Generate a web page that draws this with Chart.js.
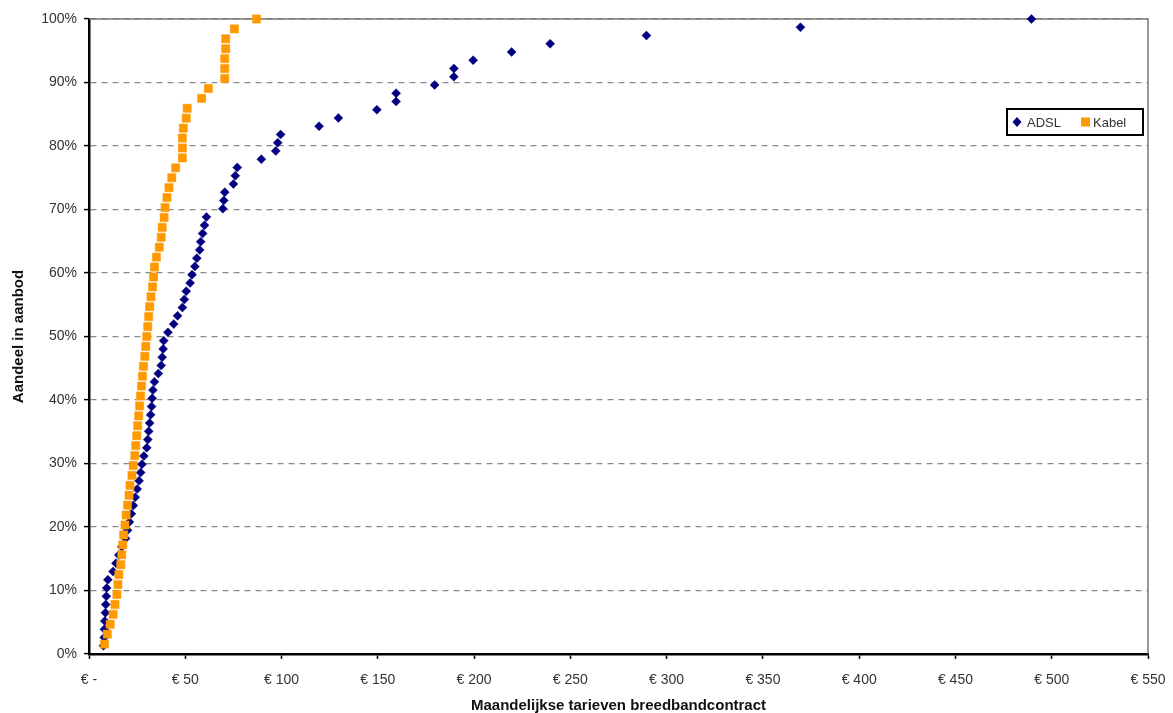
<!DOCTYPE html>
<html>
<head>
<meta charset="utf-8">
<script src="https://cdn.jsdelivr.net/npm/chart.js@4/dist/chart.umd.min.js"></script>
<style>
  html, body { margin: 0; padding: 0; background: #fff; }
  #wrap { width: 1173px; height: 713px; }
</style>
</head>
<body>
<div id="wrap"><canvas id="mycanvas" width="1173" height="713"></canvas></div>
<script>
// monthly price (euro) and cumulative share of offers (%)
var adslPrice = [7.5, 7.9, 8.0, 8.2, 8.5, 8.7, 9.0, 9.2, 9.8, 12.5,
  14.0, 15.5, 17.0, 19.0, 20.0, 21.0, 22.0, 23.0, 24.0, 25.0,
  26.0, 26.8, 27.5, 28.5, 30.0, 30.5, 31.0, 31.5, 32.0, 32.5,
  32.8, 33.2, 34.0, 36.0, 37.5, 38.0, 38.5, 38.8, 41.0, 44.0,
  46.0, 48.5, 49.5, 50.5, 52.5, 53.5, 55.0, 56.0, 57.5, 58.0,
  59.0, 60.0, 61.0, 69.5, 70.0, 70.5, 75.0, 76.0, 77.0, 89.5,
  97.0, 98.0, 99.5, 119.5, 129.5, 149.5, 159.5, 159.5, 179.5, 189.5,
  189.5, 199.5, 219.5, 239.5, 289.5, 369.5, 489.5];
var adslShare = [1.30, 2.60, 3.90, 5.19, 6.49, 7.79, 9.09, 10.39, 11.69, 12.99,
  14.29, 15.58, 16.88, 18.18, 19.48, 20.78, 22.08, 23.38, 24.68, 25.97,
  27.27, 28.57, 29.87, 31.17, 32.47, 33.77, 35.06, 36.36, 37.66, 38.96,
  40.26, 41.56, 42.86, 44.16, 45.45, 46.75, 48.05, 49.35, 50.65, 51.95,
  53.25, 54.55, 55.84, 57.14, 58.44, 59.74, 61.04, 62.34, 63.64, 64.94,
  66.23, 67.53, 68.83, 70.13, 71.43, 72.73, 74.03, 75.32, 76.62, 77.92,
  79.22, 80.52, 81.82, 83.12, 84.42, 85.71, 87.01, 88.31, 89.61, 90.91,
  92.21, 93.51, 94.81, 96.10, 97.40, 98.70, 100];

var kabelPrice = [8.0, 9.5, 11.0, 12.5, 13.5, 14.5, 15.0, 15.5, 16.5, 17.0,
  17.5, 18.0, 18.7, 19.3, 20.0, 20.8, 21.3, 22.3, 23.0, 23.8,
  24.3, 24.8, 25.3, 25.8, 26.3, 26.8, 27.3, 27.8, 28.3, 29.0,
  29.5, 30.0, 30.5, 31.0, 31.5, 32.2, 33.0, 33.5, 34.0, 35.0,
  36.5, 37.5, 38.0, 39.0, 39.5, 40.5, 41.5, 43.0, 45.0, 48.5,
  48.5, 48.5, 49.0, 50.5, 51.0, 58.5, 62.0, 70.5, 70.5, 70.5,
  71.0, 71.0, 75.5, 87.0];
var kabelShare = [1.56, 3.13, 4.69, 6.25, 7.81, 9.38, 10.94, 12.50, 14.06, 15.63,
  17.19, 18.75, 20.31, 21.88, 23.44, 25.00, 26.56, 28.13, 29.69, 31.25,
  32.81, 34.38, 35.94, 37.50, 39.06, 40.63, 42.19, 43.75, 45.31, 46.88,
  48.44, 50.00, 51.56, 53.13, 54.69, 56.25, 57.81, 59.38, 60.94, 62.50,
  64.06, 65.63, 67.19, 68.75, 70.31, 71.88, 73.44, 75.00, 76.56, 78.13,
  79.69, 81.25, 82.81, 84.38, 85.94, 87.50, 89.06, 90.63, 92.19, 93.75,
  95.31, 96.88, 98.44, 100];

var seriesNames = ['ADSL', 'Kabel'];
var xTitle = 'Maandelijkse tarieven breedbandcontract';
var yTitle = 'Aandeel in aanbod';

var navy = '#000080';
var orange = '#FF9900';

function toPoints(xs, ys) {
  var pts = [];
  for (var i = 0; i < xs.length; i++) {
    pts.push({x: xs[i], y: ys[i]});
  }
  return pts;
}

// gray frame on top/right of the plot area
var frame = {
  id: 'frame',
  beforeDatasetsDraw: function(chart) {
    var a = chart.chartArea, ctx = chart.ctx;
    ctx.save();
    ctx.strokeStyle = '#777';
    ctx.lineWidth = 1.5;
    ctx.beginPath();
    ctx.moveTo(a.left, a.top);
    ctx.lineTo(a.right, a.top);
    ctx.lineTo(a.right, a.bottom);
    ctx.stroke();
    ctx.restore();
  }
};

// boxed legend inside the plot, like the excel one
var boxLegend = {
  id: 'boxLegend',
  afterDraw: function(chart) {
    var ctx = chart.ctx;
    var x0 = 1007, y0 = 109, w = 136, h = 26;
    ctx.save();
    ctx.fillStyle = '#fff';
    ctx.fillRect(x0, y0, w, h);
    ctx.strokeStyle = '#000';
    ctx.lineWidth = 2;
    ctx.strokeRect(x0, y0, w, h);
    var cy = y0 + h / 2;
    var ds = chart.data.datasets;
    // diamond
    ctx.fillStyle = ds[0].backgroundColor;
    ctx.beginPath();
    ctx.moveTo(1017, cy - 5);
    ctx.lineTo(1021.5, cy);
    ctx.lineTo(1017, cy + 5);
    ctx.lineTo(1012.5, cy);
    ctx.closePath();
    ctx.fill();
    // square
    ctx.fillStyle = ds[1].backgroundColor;
    ctx.fillRect(1081, cy - 4.5, 9, 9);
    ctx.fillStyle = '#333';
    ctx.font = '13px "Liberation Sans", Arial, sans-serif';
    ctx.textBaseline = 'middle';
    ctx.fillText(ds[0].label, 1027, cy + 1);
    ctx.fillText(ds[1].label, 1093, cy + 1);
    ctx.restore();
  }
};

var ctx = document.getElementById('mycanvas');

var chart = new Chart(ctx, {
  type: 'scatter',
  data: {
    datasets: [
      {
        label: seriesNames[0],
        data: toPoints(adslPrice, adslShare),
        backgroundColor: navy,
        borderColor: navy,
        pointStyle: 'rectRot',
        pointRadius: 4.5,
        pointBorderWidth: 0.5,
        clip: false,
        order: 2
      },
      {
        label: seriesNames[1],
        data: toPoints(kabelPrice, kabelShare),
        backgroundColor: orange,
        borderColor: orange,
        pointStyle: 'rect',
        pointRadius: 5.8,
        pointBorderWidth: 0.5,
        clip: false,
        order: 1
      }
    ]
  },
  options: {
    responsive: false,
    animation: false,
    layout: { padding: { top: 19, right: 25, left: 0, bottom: 0 } },
    plugins: {
      legend: { display: false },
      tooltip: { enabled: false }
    },
    scales: {
      x: {
        type: 'linear',
        min: 0,
        max: 550,
        afterFit: function(s) { s.height = 59; s.paddingRight = 0; s.paddingLeft = 0; },
        ticks: {
          stepSize: 50,
          padding: 13,
          maxRotation: 0,
          autoSkip: false,
          color: '#333',
          font: { family: '"Liberation Sans", Arial, sans-serif', size: 14 },
          callback: function(v) { return v === 0 ? '€ -' : '€ ' + v; }
        },
        grid: {
          drawOnChartArea: false,
          drawTicks: true,
          tickLength: 5,
          tickColor: '#000',
          tickWidth: 1.5
        },
        border: { color: '#000', width: 2.5 },
        title: {
          display: true,
          text: xTitle,
          color: '#111',
          padding: { top: 0, bottom: 0 },
          font: { family: '"Liberation Sans", Arial, sans-serif', size: 15, weight: 'bold', lineHeight: 0.9 }
        }
      },
      y: {
        min: 0,
        max: 100,
        afterFit: function(s) { s.width = 89; },
        ticks: {
          stepSize: 10,
          padding: 7,
          color: '#333',
          font: { family: '"Liberation Sans", Arial, sans-serif', size: 14 },
          callback: function(v) { return v + '%'; }
        },
        grid: {
          color: '#8a8a8a',
          lineWidth: 1.2,
          tickLength: 5,
          tickColor: '#000',
          tickWidth: 1.5,
          tickBorderDash: []
        },
        border: { color: '#000', width: 2.5, dash: [6, 5] },
        title: {
          display: true,
          text: yTitle,
          color: '#111',
          padding: { top: 10, bottom: 0 },
          font: { family: '"Liberation Sans", Arial, sans-serif', size: 15, weight: 'bold' }
        }
      }
    }
  },
  plugins: [frame, boxLegend]
});
</script>
</body>
</html>
